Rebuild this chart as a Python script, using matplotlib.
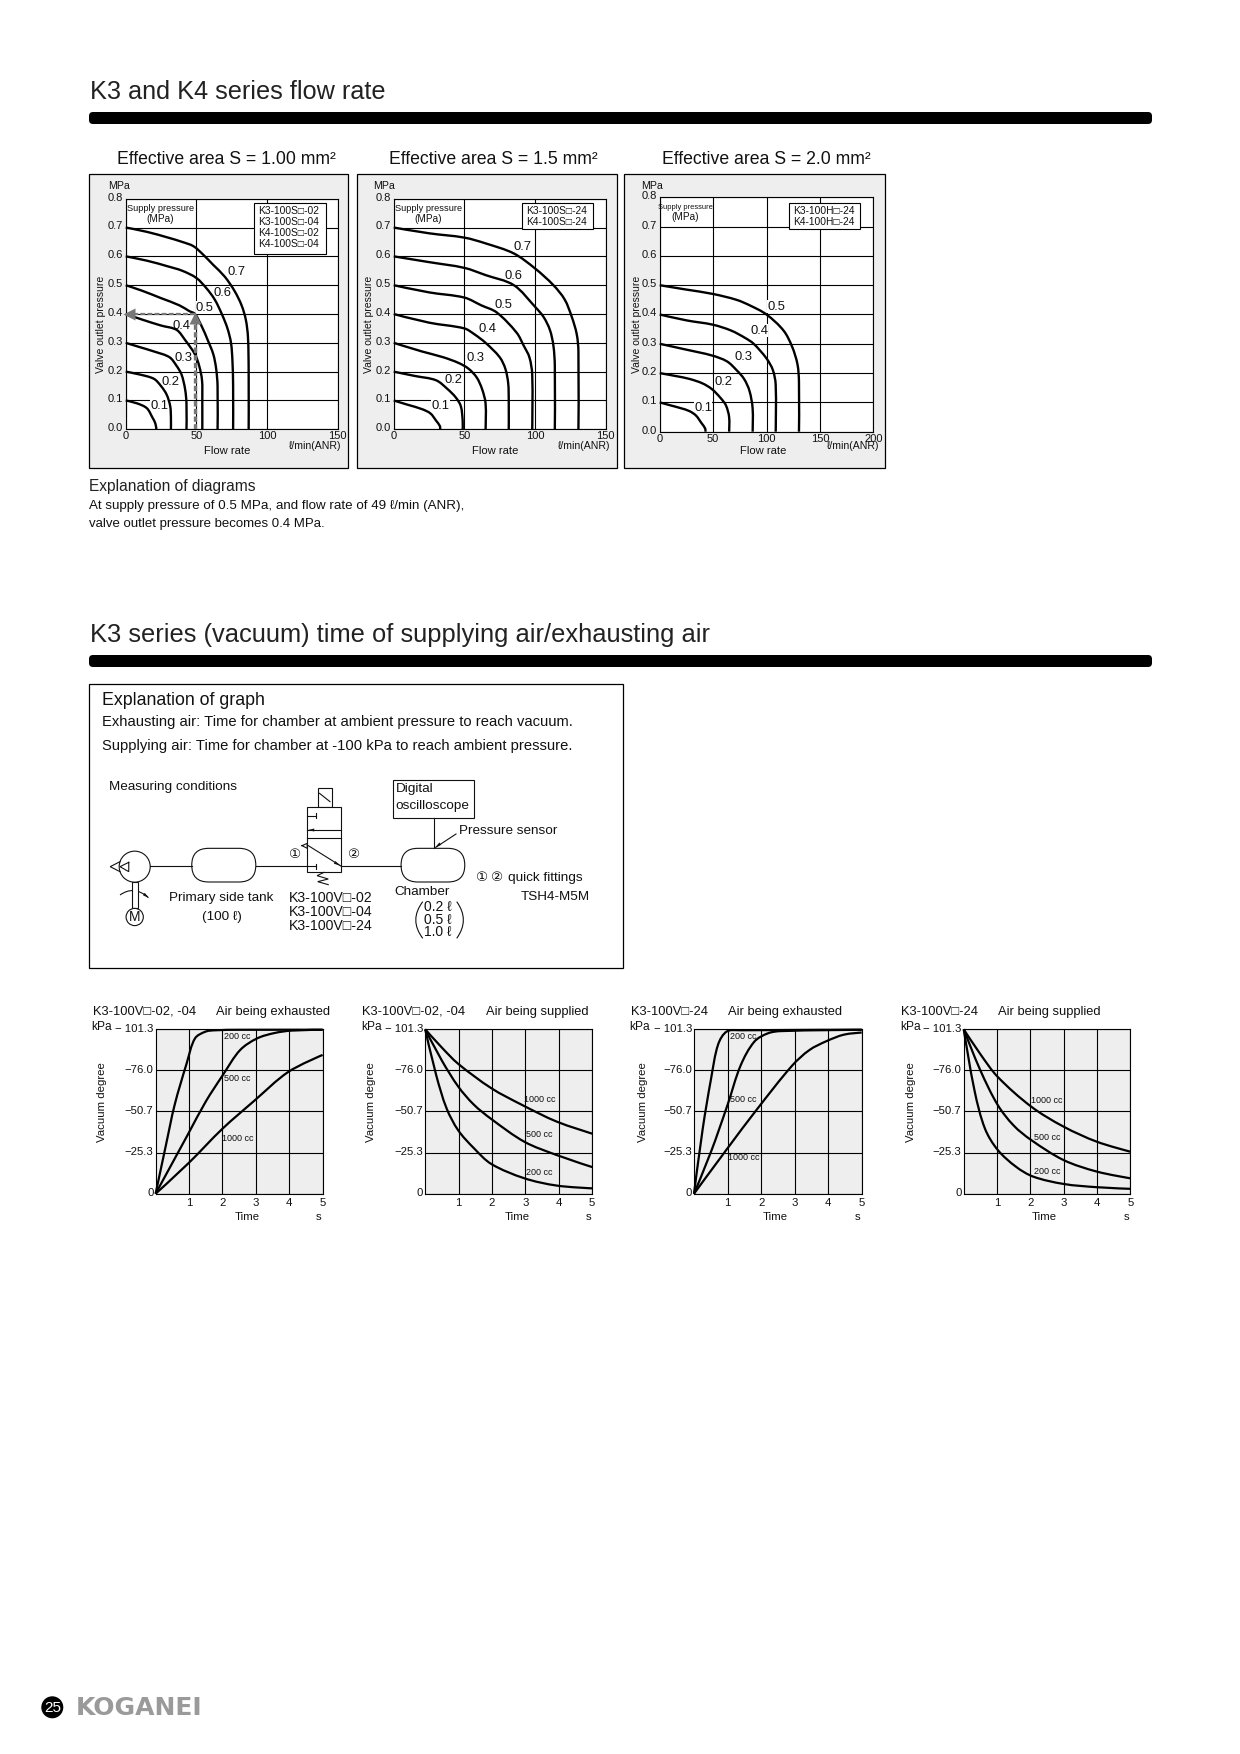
import matplotlib
matplotlib.use("Agg")
import matplotlib.pyplot as plt
from matplotlib.patches import Rectangle, Circle, FancyBboxPatch, PathPatch, Polygon
from matplotlib.path import Path
from matplotlib.transforms import ScaledTranslation

plt.rcParams['font.family'] = ['Liberation Sans', 'DejaVu Sans']

# flow rate charts, one (flow, pressure) pair of lists per curve
PRESSURES_1 = ['0.7', '0.6', '0.5', '0.4', '0.3', '0.2', '0.1']
FLOW_1 = [
    [0, 15, 30, 40, 48, 55, 62, 70, 77, 82, 85, 86.5, 87, 87],
    [0, 15, 30, 40, 50, 57, 63, 68, 72, 74.5, 75.5, 76, 76],
    [0, 12, 25, 38, 45, 49, 54, 58, 62, 64, 65, 65],
    [0, 12, 25, 36, 42, 49, 52, 54, 54.2, 54.2],
    [0, 10, 20, 31, 36, 39.5, 42, 43, 43],
    [0, 10, 20, 25, 29, 31.5, 32, 32],
    [0, 8, 15, 19, 21, 21.7],
]
OUTLET_1 = [
    [.70, .685, .665, .65, .635, .605, .57, .53, .48, .43, .38, .32, .2, 0],
    [.60, .585, .565, .55, .525, .49, .45, .40, .35, .30, .24, .15, 0],
    [.50, .48, .455, .43, .41, .40, .355, .31, .26, .21, .15, 0],
    [.40, .38, .36, .345, .31, .26, .22, .17, .10, 0],
    [.30, .285, .27, .25, .22, .19, .14, .09, 0],
    [.20, .19, .175, .15, .12, .08, .04, 0],
    [.10, .09, .073, .04, .02, 0],
]
LABEL_X_1 = [78.5, 68.6, 56, 39.6, 40.8, 31.8, 23.8]
LABEL_Y_1 = [.546, .474, .422, .36, .249, .164, .082]

PRESSURES_2 = ['0.7', '0.6', '0.5', '0.4', '0.3', '0.2', '0.1']
FLOW_2 = [
    [0, 25, 50, 65, 85, 100, 113, 121, 126, 129.5, 130.7, 130.7],
    [0, 25, 50, 65, 85, 100, 106, 110.5, 113, 114, 114],
    [0, 25, 50, 62, 73, 87, 92, 96, 98, 98],
    [0, 25, 50, 57, 65, 75, 79, 81, 81.4, 81.4],
    [0, 20, 35, 46, 53, 58.7, 62.5, 65, 65],
    [0, 15, 30, 38, 44, 47.5, 48.8, 48.8],
    [0, 10, 20, 26, 30, 32.8, 32.8],
]
OUTLET_2 = [
    [.70, .68, .665, .645, .61, .558, .50, .45, .39, .33, .27, 0],
    [.60, .58, .56, .535, .50, .425, .39, .345, .29, .22, 0],
    [.50, .475, .457, .43, .405, .335, .29, .25, .19, 0],
    [.40, .37, .35, .33, .30, .25, .21, .16, .10, 0],
    [.30, .27, .25, .23, .21, .18, .14, .09, 0],
    [.20, .185, .17, .14, .11, .08, .03, 0],
    [.10, .085, .07, .055, .03, .01, 0],
]
LABEL_X_2 = [90.8, 84.9, 77.8, 66.3, 58, 42.5, 33]
LABEL_Y_2 = [.633, .533, .432, .347, .249, .171, .082]

PRESSURES_3 = ['0.5', '0.4', '0.3', '0.2', '0.1']
FLOW_3 = [
    [0, 25, 50, 72, 85, 100, 116, 124, 129, 130.4, 130.4],
    [0, 25, 50, 67, 80, 88, 100, 106, 108.6, 108.6],
    [0, 25, 49, 63, 72, 79, 84, 87, 87],
    [0, 15, 28, 40, 49, 57, 62, 65, 65],
    [0, 10, 20, 28, 34, 39, 42.7, 42.7],
]
OUTLET_3 = [
    [.5, .485, .47, .45, .43, .40, .345, .29, .23, .17, 0],
    [.4, .38, .365, .345, .32, .30, .25, .21, .16, 0],
    [.3, .28, .26, .24, .21, .18, .14, .08, 0],
    [.2, .19, .18, .165, .145, .115, .09, .05, 0],
    [.1, .09, .08, .07, .055, .03, .01, 0],
]
LABEL_X_3 = [109.5, 93, 78, 59.3, 40.6]
LABEL_Y_3 = [.427, .345, .256, .171, .082]

MODELS_1 = ['K3-100S□-02', 'K3-100S□-04', 'K4-100S□-02', 'K4-100S□-04']
MODELS_2 = ['K3-100S□-24', 'K4-100S□-24']
MODELS_3 = ['K3-100H□-24', 'K4-100H□-24']

# example reading in the first chart
EXAMPLE_FLOW = 49
EXAMPLE_OUTLET = 0.4

# vacuum charts
CC_NAMES = ['200 cc', '500 cc', '1000 cc']
VAC_TICKS = [0, 25.3, 50.7, 76.0, 101.3]

T_EX_A = [
    [0, .31, .57, .93, 1.18, 1.5, 1.8, 2.5, 5],
    [0, .98, 1.5, 2.01, 2.53, 3.04, 3.56, 4.07, 5],
    [0, .98, 2, 2.94, 3.97, 5],
]
V_EX_A = [
    [0, 30, 54.7, 80.3, 95.7, 99.9, 100.7, 101, 101],
    [0, 37, 56.7, 73, 88.5, 95.7, 99, 100.5, 101],
    [0, 18.7, 40, 57, 75, 85.5],
]
T_SUP_A = [
    [0, .33, .64, .99, 1.46, 1.98, 2.97, 3.94, 5],
    [0, .5, .99, 1.45, 1.98, 2.97, 3.94, 5],
    [0, .5, .99, 1.98, 2.9, 3.94, 5],
]
V_SUP_A = [
    [101.3, 73, 52.6, 39, 28, 18.3, 9.5, 5, 3.3],
    [101.3, 82, 66, 55, 46, 32, 23.8, 16.4],
    [101.3, 90, 80, 65, 54.7, 44.4, 37],
]
T_EX_B = [
    [0, .26, .51, .72, .98, 1.4, 5],
    [0, .51, 1, 1.39, 1.8, 2.2, 2.6, 5],
    [0, 1, 1.9, 2.93, 3.44, 3.95, 4.47, 5],
]
V_EX_B = [
    [0, 40, 71, 92, 100, 100.7, 101],
    [0, 26, 54.7, 79, 93.7, 98.8, 100.2, 101],
    [0, 28, 52.6, 79, 88.5, 94, 98, 99.3],
]
T_SUP_B = [
    [0, .33, .64, 1.02, 1.57, 2.09, 3, 4, 5],
    [0, .5, 1.02, 1.5, 2.03, 3, 4, 5],
    [0, .5, 1.02, 2.03, 3, 4, 5],
]
V_SUP_B = [
    [101.3, 63, 40, 27, 16.6, 10.5, 6, 4, 3],
    [101.3, 76, 54.7, 42, 33, 20.7, 13.6, 9.5],
    [101.3, 86, 72, 53.6, 41.3, 32, 25.9],
]

W, H = 1240, 1754
GREY = '#eeeeee'

fig = plt.figure(figsize=(W / 100, H / 100), dpi=100, facecolor='white')


def px_axes(x0, y0, x1, y1, zorder=1):
    return fig.add_axes([x0 / W, 1 - y1 / H, (x1 - x0) / W, (y1 - y0) / H], zorder=zorder)


page = px_axes(0, 0, W, H, zorder=0)
top = px_axes(0, 0, W, H, zorder=3)
for a in (page, top):
    a.set_xlim(0, W)
    a.set_ylim(H, 0)
    a.axis('off')


def txt(x, y, s, size, ax=page, ha='left', **kw):
    return ax.text(x, y, s, fontsize=size, ha=ha, va='center', color=kw.pop('color', '#111111'), **kw)


def head_bar(y0, y1):
    page.add_patch(FancyBboxPatch((91, y0 + 2), 1059, y1 - y0 - 4, boxstyle='round,pad=2,rounding_size=4',
                                  fc='black', ec='none'))


def lift_labels(ax, up):
    # tick labels sit a little above their grid lines in the original
    off = ScaledTranslation(0, up / 72, fig.dpi_scale_trans)
    for lab in ax.get_yticklabels():
        lab.set_transform(lab.get_transform() + off)


def smooth_curve(ax, xs, ys, xmax, ymax, lw):
    # bezier through the read points, the curves in the original are drawn smooth
    pts = list(zip(xs, ys))
    n = len(pts)
    dist = [(((pts[i + 1][0] - pts[i][0]) / xmax) ** 2 + ((pts[i + 1][1] - pts[i][1]) / ymax) ** 2) ** 0.5
            for i in range(n - 1)]
    tang = [(0, 0)] * n
    for i in range(1, n - 1):
        s = dist[i - 1] + dist[i]
        tang[i] = ((pts[i + 1][0] - pts[i - 1][0]) / s, (pts[i + 1][1] - pts[i - 1][1]) / s)
    verts = [pts[0]]
    codes = [Path.MOVETO]
    for i in range(n - 1):
        d = dist[i] / 3
        verts += [(pts[i][0] + tang[i][0] * d, pts[i][1] + tang[i][1] * d),
                  (pts[i + 1][0] - tang[i + 1][0] * d, pts[i + 1][1] - tang[i + 1][1] * d),
                  pts[i + 1]]
        codes += [Path.CURVE4] * 3
    ax.add_patch(PathPatch(Path(verts, codes), fc='none', ec='black', lw=lw, clip_on=False, zorder=3,
                           capstyle='butt'))


def flow_chart(frame, box, xmax, xticks, flows, outlets, names, lx, ly, title, tx, models, mbox, supply_size,
               mpa_x, flow_x, unit_x, valve_x):
    page.add_patch(Rectangle((frame[0], frame[1]), frame[2] - frame[0], frame[3] - frame[1],
                             fc=GREY, ec='black', lw=0.9))
    txt(tx, 160, title, 12.7)
    ax = px_axes(*box)
    ax.set_xlim(0, xmax)
    ax.set_ylim(0, 0.8)
    ax.set_xticks(xticks)
    ax.set_yticks([i / 10 for i in range(9)])
    ax.set_yticklabels(['%.1f' % (i / 10) for i in range(9)])
    ax.tick_params(length=0, labelsize=8, pad=2, labelcolor='#111111')
    ax.tick_params(axis='x', pad=1.5)
    ax.grid(color='black', lw=0.8)
    ax.set_axisbelow(True)
    for s in ax.spines.values():
        s.set_linewidth(0.8)
    for fl, ou in zip(flows, outlets):
        smooth_curve(ax, fl, ou, xmax, 0.8, 1.7)
    for n, x, y in zip(names, lx, ly):
        ax.text(x, y, n, fontsize=9.4, ha='center', va='center', color='#111111', zorder=2.5,
                bbox=dict(fc='white', ec='none', pad=0.3))
    lift_labels(ax, 1.5)
    # supply pressure note
    txt(mbox[4], box[1] + 10, 'Supply pressure', supply_size, ax=top, ha='center')
    txt(mbox[4], box[1] + 20, '(MPa)', 7.2, ax=top, ha='center')
    # model box
    top.add_patch(Rectangle((mbox[0], mbox[1]), mbox[2] - mbox[0], mbox[3] - mbox[1], fc='white', ec='black', lw=0.8))
    for i, m in enumerate(models):
        txt(mbox[0] + 4, mbox[1] + 8 + i * 11.2, m, 7.4, ax=top)
    txt(mpa_x, 186, 'MPa', 7.7, ha='center')
    txt(flow_x, 451, 'Flow rate', 8.1, ha='center')
    txt(unit_x, 446, 'ℓ/min(ANR)', 7.6, ha='center')
    txt(valve_x, 324, 'Valve outlet pressure', 7.5, ha='center', rotation=90)
    return ax


ax1 = flow_chart((89.3, 174, 348, 468), (125.7, 198.7, 337.7, 429.3), 150, [0, 50, 100, 150], FLOW_1, OUTLET_1,
                 PRESSURES_1, LABEL_X_1, LABEL_Y_1, 'Effective area S = 1.00 mm²', 116.7, MODELS_1,
                 (254.3, 202.5, 325.7, 253.7, 160.3), 6.7, 119, 227.3, 315, 101.5)
ax2 = flow_chart((356.7, 174, 616.7, 468), (393.7, 198.7, 605.7, 429.3), 150, [0, 50, 100, 150], FLOW_2, OUTLET_2,
                 PRESSURES_2, LABEL_X_2, LABEL_Y_2, 'Effective area S = 1.5 mm²', 389, MODELS_2,
                 (522.3, 202.5, 592.7, 229.3, 428.3), 6.7, 384, 495, 584, 369)
ax3 = flow_chart((624.3, 174, 884.7, 468), (659.7, 197.3, 873.3, 431.7), 200, [0, 50, 100, 150, 200], FLOW_3, OUTLET_3,
                 PRESSURES_3, LABEL_X_3, LABEL_Y_3, 'Effective area S = 2.0 mm²', 661.7, MODELS_3,
                 (789.3, 202.5, 860.3, 229.3, 685.3), 5.4, 651.7, 762.7, 852.7, 636.5)

# dashed reading of the example in the first chart
ax1.plot([EXAMPLE_FLOW, EXAMPLE_FLOW], [0, EXAMPLE_OUTLET - 0.03], color='#777777', lw=2.4, ls=(0, (1.6, 0.7)), zorder=5)
ax1.plot([EXAMPLE_FLOW, 3], [EXAMPLE_OUTLET, EXAMPLE_OUTLET], color='#777777', lw=1.6, ls=(0, (2.2, 1.0)), zorder=5)
ax1.plot([EXAMPLE_FLOW], [EXAMPLE_OUTLET - 0.015], marker='^', ms=8, color='#777777', mec='none', zorder=6)
ax1.plot([2], [EXAMPLE_OUTLET], marker='<', ms=8, color='#777777', mec='none', zorder=6, clip_on=False)

# page headings
txt(90, 92, 'K3 and K4 series flow rate', 18.2, color='#222222')
head_bar(112, 124)
txt(90, 635, 'K3 series (vacuum) time of supplying air/exhausting air', 18.4, color='#222222')
head_bar(655, 667)

txt(89, 487, 'Explanation of diagrams', 11.2, color='#222222')
txt(89, 506, 'At supply pressure of 0.5 MPa, and flow rate of 49 ℓ/min (ANR),', 9.65)
txt(89, 524, 'valve outlet pressure becomes 0.4 MPa.', 9.55)


# explanation box, drawn in pixels relative to its corner
def zp(x, y):
    return 85 + x / 2.857, 680 + y / 3


def zline(pts, lw=0.8):
    xs, ys = zip(*[zp(*p) for p in pts])
    page.plot(xs, ys, color='#111111', lw=lw, solid_joinstyle='miter', zorder=6)


def zrect(x0, y0, x1, y1, fc='white', lw=0.8):
    a, b = zp(x0, y0)
    c, d = zp(x1, y1)
    page.add_patch(Rectangle((a, b), c - a, d - b, fc=fc, ec='#111111', lw=lw, zorder=3))


def zstadium(x0, y0, x1, y1):
    a, b = zp(x0, y0)
    c, d = zp(x1, y1)
    page.add_patch(FancyBboxPatch((a, b), c - a, d - b, boxstyle='round,pad=0,rounding_size=%.1f' % ((d - b) * 0.5),
                                  fc='white', ec='#111111', lw=0.8, zorder=3))


def zcircle(x, y, r):
    a, b = zp(x, y)
    page.add_patch(Circle((a, b), r / 2.9, fc='white', ec='#111111', lw=0.8, zorder=3))


def zcurve(p0, c, p1):
    verts = [zp(*p0), zp(*c), zp(*p1)]
    page.add_patch(PathPatch(Path(verts, [Path.MOVETO, Path.CURVE3, Path.CURVE3]), fc='none', ec='#111111', lw=0.8))


def zhead(tip, base):
    # small solid arrow head pointing at tip
    (tx, ty), (bx, by) = zp(*tip), zp(*base)
    dx, dy = tx - bx, ty - by
    n = (dx * dx + dy * dy) ** 0.5
    px, py = -dy / n * 1.5, dx / n * 1.5
    page.add_patch(Polygon([(tx, ty), (bx + px, by + py), (bx - px, by - py)], fc='#111111', ec='none', zorder=7))


def ztxt(x, y, s, size=9.7, ha='left'):
    a, b = zp(x, y)
    return txt(a, b, s, size, ha=ha, zorder=8)


page.add_patch(Rectangle((89.4, 684.3), 533.4, 284, fc='white', ec='black', lw=0.9))
ztxt(48, 62, 'Explanation of graph', 12.8)
ztxt(48, 127, 'Exhausting air: Time for chamber at ambient pressure to reach vacuum.', 10.6)
ztxt(48, 199, 'Supplying air: Time for chamber at -100 kPa to reach ambient pressure.', 10.6)
ztxt(69, 322, 'Measuring conditions')

zline([(187, 558), (305, 558)])
zline([(488, 558), (635, 558)])
zline([(731, 558), (903, 558)])
zcircle(142, 560, 45)
zline([(125, 547), (125, 575), (100, 560), (125, 547)])
zline([(100, 545), (72, 560), (100, 575)])
zrect(135, 606, 152, 685)
zcircle(142, 711, 25)
ztxt(142, 711, 'M', 10, ha='center')
zcurve((100, 645), (140, 615), (180, 652))
zhead((184, 655), (168, 642))
zstadium(305, 505, 488, 606)
zstadium(903, 505, 1085, 606)
zrect(665, 325, 705, 382)
zline([(670, 340), (700, 365)])
zrect(635, 382, 731, 577)
zline([(635, 475), (731, 475)])
for pts in ([(635, 407), (660, 407)], [(660, 400), (660, 415)], [(635, 450), (731, 450)],
            [(635, 495), (731, 558)], [(635, 558), (660, 558)], [(660, 551), (660, 566)],
            [(620, 497), (635, 490), (635, 505), (620, 497)],
            [(683, 577), (663, 587), (695, 597), (665, 605), (695, 614)]):
    zline(pts)
zhead((637, 450), (655, 450))
zhead((731, 558), (713, 547))
zline([(997, 415), (997, 505)])
zrect(879, 301, 1110, 415)
ztxt(888, 328, 'Digital')
ztxt(888, 378, 'oscilloscope')
zline([(1060, 462), (1002, 502)])
zhead((1000, 503), (1015, 491))
ztxt(1068, 454, 'Pressure sensor')
ztxt(600, 524, '①', ha='center')
ztxt(768, 524, '②', ha='center')
ztxt(1133, 594, '①', ha='center')
ztxt(1178, 594, '②', ha='center')
ztxt(1208, 594, 'quick fittings')
ztxt(1245, 651, 'TSH4-M5M')
ztxt(390, 655, 'Primary side tank', ha='center')
ztxt(390, 712, '(100 ℓ)', ha='center')
for yy, m in zip((654, 696, 738), ('K3-100V□-02', 'K3-100V□-04', 'K3-100V□-24')):
    ztxt(582, yy, m, 10.2)
ztxt(884, 636, 'Chamber')
for yy, m in zip((682, 720, 757), ('0.2 ℓ', '0.5 ℓ', '1.0 ℓ')):
    ztxt(1008, yy, m, 10, ha='center')
zcurve((965, 665), (925, 720), (965, 775))
zcurve((1062, 665), (1100, 720), (1062, 775))


def vac_chart(box, times, values, label_x, label_y, model, mx, mode, modex, kpa_x, ylab_x, time_x, s_x):
    ax = px_axes(*box)
    ax.set_facecolor(GREY)
    ax.set_xlim(0, 5)
    ax.set_ylim(0, 101.3)
    ax.set_xticks([1, 2, 3, 4, 5])
    ax.set_yticks(VAC_TICKS)
    ax.set_yticklabels(['0', '−25.3', '−50.7', '−76.0', '− 101.3'])
    ax.tick_params(length=0, labelsize=8.2, pad=1.5, labelcolor='#111111')
    ax.tick_params(axis='x', pad=3)
    ax.grid(color='black', lw=0.8)
    ax.set_axisbelow(True)
    for s in ax.spines.values():
        s.set_linewidth(0.8)
    for t, v in zip(times, values):
        smooth_curve(ax, t, v, 5, 101.3, 1.6)
    for n, x, y in zip(CC_NAMES, label_x, label_y):
        ax.text(x, y, n, fontsize=6.5, ha='center', va='center', color='#111111', zorder=4)
    lift_labels(ax, 1)
    txt(mx, 1012, model, 9.3)
    txt(modex, 1012, mode, 9.3)
    txt(kpa_x, 1027, 'kPa', 8.6)
    txt(ylab_x, 1102, 'Vacuum degree', 8.2, ha='center', rotation=90)
    txt(time_x, 1217, 'Time', 8.2, ha='center')
    txt(s_x, 1217, 's', 8.2, ha='center')


vac_chart((155.6, 1029.3, 322.6, 1193.7), T_EX_A, V_EX_A, [2.44, 2.44, 2.45], [96.8, 71, 34.1],
          'K3-100V□-02, -04', 92.6, 'Air being exhausted', 215.9, 91.7, 102.2, 247.5, 319)
vac_chart((425.2, 1029.3, 592.2, 1193.7), T_SUP_A, V_SUP_A, [3.42, 3.42, 3.42], [13.1, 36.6, 58.1],
          'K3-100V□-02, -04', 362.2, 'Air being supplied', 485.5, 361, 370.8, 517, 588.8)
vac_chart((694, 1029.3, 861.7, 1193.7), T_EX_B, V_EX_B, [1.46, 1.46, 1.47], [97, 58.1, 22.4],
          'K3-100V□-24', 631.4, 'Air being exhausted', 728.5, 629.7, 643.4, 775, 857.6)
vac_chart((963.7, 1029.3, 1130.3, 1193.7), T_SUP_B, V_SUP_B, [2.5, 2.5, 2.48], [13.6, 34.7, 57.5],
          'K3-100V□-24', 900.6, 'Air being supplied', 997.8, 900, 911, 1044.6, 1127)

# footer
page.add_patch(Circle((52.3, 1707.3), 11, fc='black', ec='none'))
txt(52.3, 1707.5, '25', 11, ha='center', color='white')
page.text(76, 1708, 'KOGANEI', fontsize=18, fontweight='bold', family='DejaVu Sans', color='#9a9a9a', va='center')

fig.savefig('out.png', dpi=100, facecolor='white')
